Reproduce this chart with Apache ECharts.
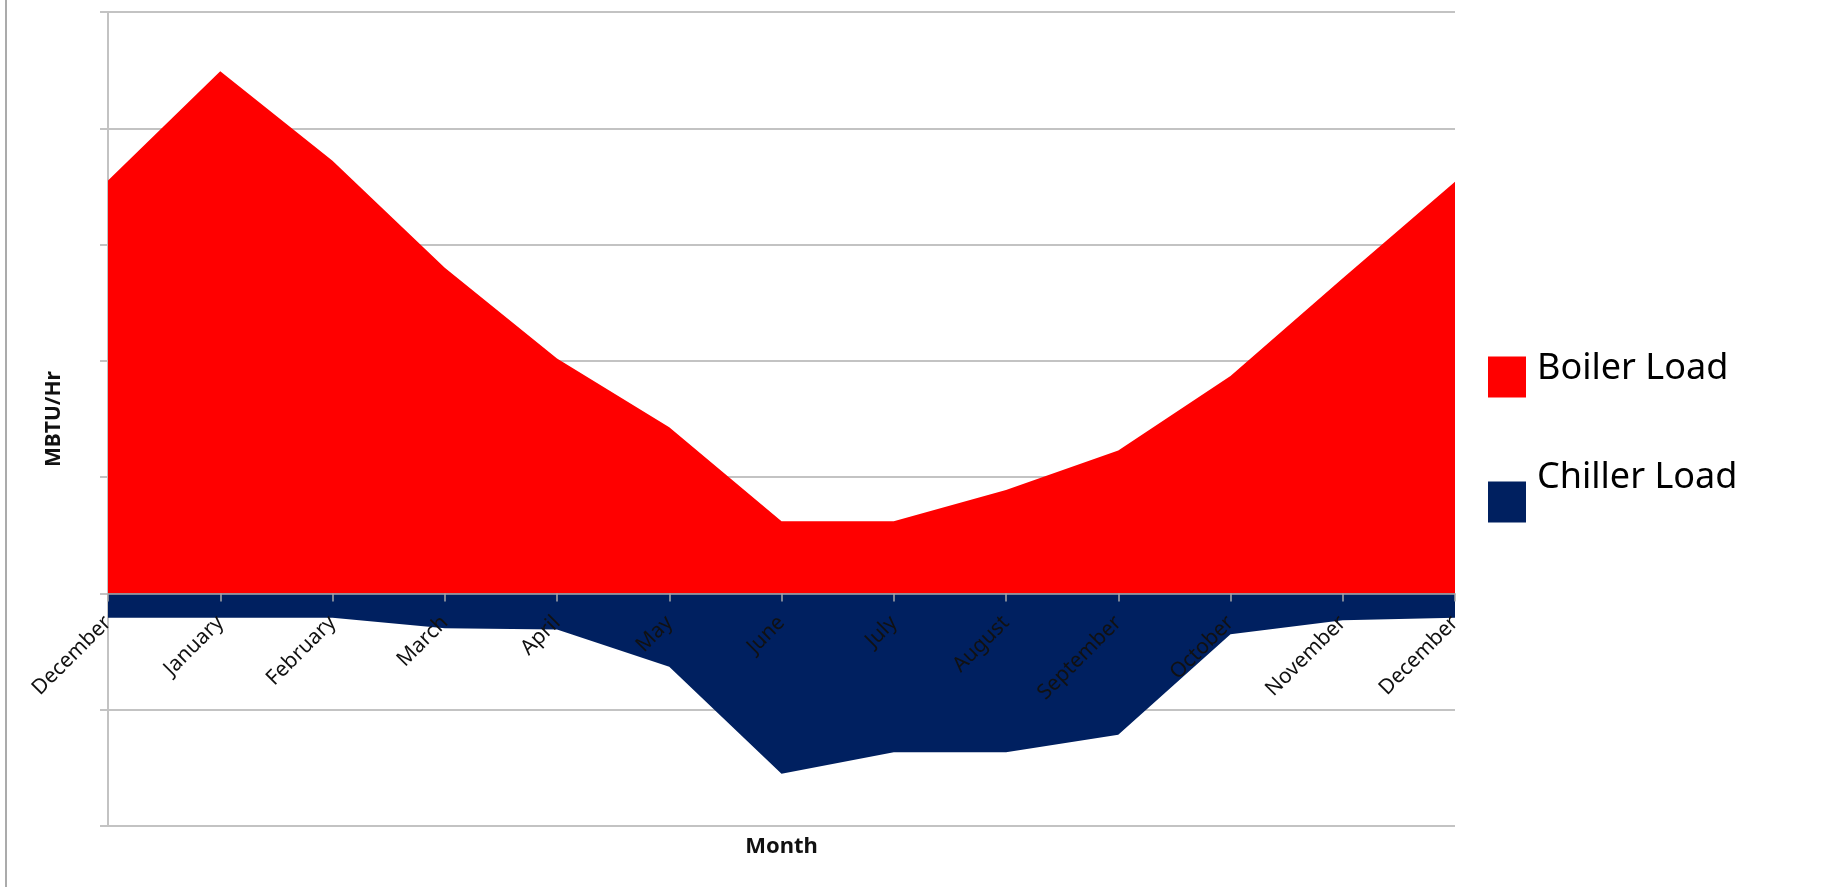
<!DOCTYPE html>
<html>
<head>
<meta charset="utf-8">
<title>Boiler and Chiller Load by Month</title>
<script src="https://cdn.jsdelivr.net/npm/echarts@6/dist/echarts.min.js"></script>
<style>
  html, body { margin: 0; padding: 0; background: #ffffff; }
  #chart { width: 1829px; height: 887px; }
</style>
</head>
<body>
<div id="chart"></div>
<script>
// Month labels along the x axis (December repeats to close the yearly loop)
const months = ['December', 'January', 'February', 'March', 'April', 'May', 'June',
  'July', 'August', 'September', 'October', 'November', 'December'];

// Heating load carried by the boilers (positive side)
const boilerLoad = [3.55, 4.49, 3.72, 2.80, 2.02, 1.43, 0.62, 0.62, 0.89, 1.23, 1.87, 2.71, 3.54];

// Cooling load carried by the chillers (negative side)
const chillerLoad = [-0.21, -0.21, -0.21, -0.30, -0.31, -0.63, -1.55, -1.365, -1.365, -1.215, -0.35, -0.23, -0.21];

// Value axis range (unlabelled gridlines)
const yMin = -2;
const yMax = 5;
const yStep = 1;

const FONT = 'Noto Sans';
const GRID_GRAY = '#c3c3c3';

// Plot area inside the 1829 x 887 canvas
const GRID = { left: 108, right: 374, top: 12, bottom: 61 };
const plotHeight = 887 - GRID.top - GRID.bottom;
// Lift the month axis (line, ticks, labels, title) from the bottom edge up to the zero line
const zeroLift = plotHeight * (0 - yMin) / (yMax - yMin);

// Legend entry: label sits a little above its colour swatch
function legendEntry(name, top, raise) {
  return {
    data: [name],
    orient: 'vertical',
    left: 1483,
    top: top,
    icon: 'rect',
    itemWidth: 38,
    itemHeight: 41,
    formatter: '{t|{name}}',
    textStyle: {
      fontFamily: FONT,
      fontSize: 36,
      color: '#000000',
      rich: {
        t: { fontFamily: FONT, fontSize: 36, color: '#000000', padding: [0, 0, raise * 2, 6] }
      }
    }
  };
}

const chart = echarts.init(document.getElementById('chart'), null, { renderer: 'canvas' });

chart.setOption({
  animation: false,
  backgroundColor: '#ffffff',
  graphic: [
    {
      type: 'line',
      shape: { x1: 6, y1: 0, x2: 6, y2: 887 },
      style: { stroke: '#8f8f8f', lineWidth: 1.5 }
    }
  ],
  grid: Object.assign({ containLabel: false, outerBoundsMode: 'none' }, GRID),
  legend: [
    legendEntry('Boiler Load', 346, 8),
    legendEntry('Chiller Load', 455, 24)
  ],
  xAxis: {
    type: 'category',
    data: months,
    boundaryGap: false,
    z: 10,
    offset: -zeroLift,
    axisLine: { onZero: false, lineStyle: { color: '#a8a8a8', width: 1.5 } },
    axisTick: { show: true, interval: 0, length: 8, lineStyle: { color: '#a8a8a8', width: 1.5 } },
    axisLabel: {
      interval: 0,
      rotate: 45,
      margin: 26,
      fontFamily: FONT,
      fontSize: 21,
      color: '#111111'
    },
    name: 'Month',
    nameLocation: 'middle',
    nameGap: 242,
    nameTextStyle: { fontFamily: FONT, fontSize: 22, fontWeight: 'bold', color: '#111111' }
  },
  yAxis: {
    type: 'value',
    min: yMin,
    max: yMax,
    interval: yStep,
    axisLine: { show: true, lineStyle: { color: GRID_GRAY, width: 2 } },
    axisTick: { show: true, length: 8, lineStyle: { color: GRID_GRAY, width: 2 } },
    axisLabel: { show: false },
    splitLine: { show: true, lineStyle: { color: GRID_GRAY, width: 2 } },
    name: 'MBTU/Hr',
    nameLocation: 'middle',
    nameGap: 43,
    nameTextStyle: { fontFamily: FONT, fontSize: 21, fontWeight: 'bold', color: '#111111' }
  },
  series: [
    {
      name: 'Boiler Load',
      type: 'line',
      data: boilerLoad,
      showSymbol: false,
      symbol: 'none',
      lineStyle: { width: 0, color: '#ff0000' },
      itemStyle: { color: '#ff0000' },
      areaStyle: { color: '#ff0000', opacity: 1 }
    },
    {
      name: 'Chiller Load',
      type: 'line',
      data: chillerLoad,
      showSymbol: false,
      symbol: 'none',
      lineStyle: { width: 0, color: '#002060' },
      itemStyle: { color: '#002060' },
      areaStyle: { color: '#002060', opacity: 1 }
    }
  ]
});
</script>
</body>
</html>
